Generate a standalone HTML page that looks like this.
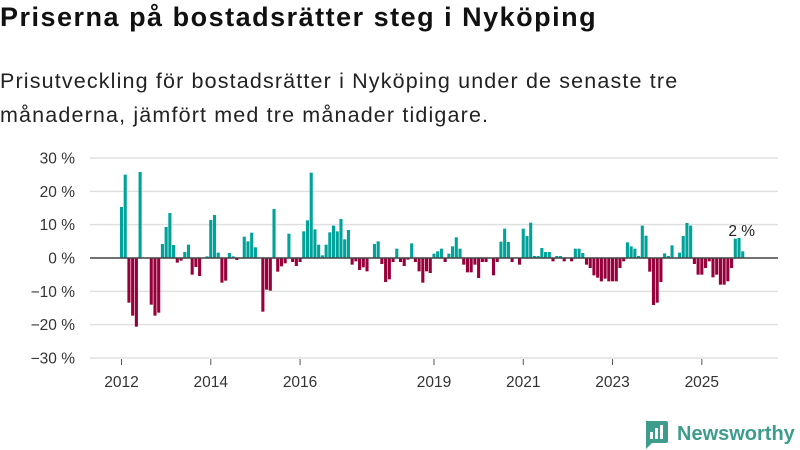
<!DOCTYPE html>
<html><head><meta charset="utf-8"><style>
body{margin:0;width:800px;height:450px;background:#fff;overflow:hidden;font-family:"Liberation Sans",sans-serif;color:#111}
#title{position:absolute;left:0;top:2px;font-size:27px;font-weight:bold;margin:0;white-space:nowrap;letter-spacing:1.5px}
#sub{position:absolute;left:0;top:64px;font-size:21.5px;line-height:34px;color:#222;white-space:nowrap;letter-spacing:1.15px}
svg{position:absolute;left:0;top:0}
</style></head><body>
<h1 id="title">Priserna på bostadsrätter steg i Nyköping</h1>
<div id="sub">Prisutveckling för bostadsrätter i Nyköping under de senaste tre<br>månaderna, jämfört med tre månader tidigare.</div>
<svg id="chart" width="800" height="450"></svg>
<script>
const startYear = 2012;
const values = [15.3,25,-13.4,-17.3,-20.6,25.8,0,0,-14,-17.3,-16.4,4.2,9.3,13.5,3.9,-1.4,-0.8,1.8,4,-5,-2.7,-5.4,0,0.5,11.4,12.9,1.6,-7.4,-6.8,1.5,0.5,-0.6,0,6.4,5,7.6,3.2,0,-16.1,-9.5,-9.8,14.7,-4.1,-2.5,-1.6,7.3,-1.2,-2.4,-1.2,8,11.3,25.6,8.6,4,0.8,4,7.7,9.7,8,11.7,5.6,8.4,-2,-1,-3.6,-2.8,-4,0,4.2,5,-1.8,-7.2,-6.4,-1.2,2.8,-1.2,-2.4,-0.5,4.4,-1.2,-4,-7.4,-4,-4.5,1.3,2,2.8,-1.2,1.3,3.5,6.2,2.8,-2,-4.3,-4.3,-2,-6,-1.2,-1.2,0,-5.2,-1.2,4.9,8.8,4.8,-1.2,0,-2,8.8,6.6,10.6,0.6,0.6,3,1.8,1.8,-1,0.6,0.6,-1,0,-1,2.8,2.8,1.5,-2,-3,-5.2,-5.9,-7,-6.2,-7,-7,-7,-3,-1,4.7,3.5,2.8,0.6,9.7,6.7,-4.1,-14.1,-13.4,-7.2,1.4,0.6,3.8,0,1.6,6.6,10.5,9.7,-1.8,-5,-5,-3,-1,-5.8,-5,-8,-8,-7,-3,5.8,6,2];
const yTicks = [30,20,10,0,-10,-20,-30];
const xTickYears = [2012,2014,2016,2019,2021,2023,2025];
const lastLabel = "2 %";

const svg = document.getElementById('chart');
const NS = 'http://www.w3.org/2000/svg';
const y0 = 258, pxPer = 100/30, x0 = 121.5, step = 3.72;
function yScale(v){return y0 - v*pxPer;}
function xScale(i){return x0 + i*step;}
function mk(t,a){const e=document.createElementNS(NS,t);for(const k in a)e.setAttribute(k,a[k]);svg.appendChild(e);return e;}
yTicks.forEach(t=>{
  if(t!==0){
    const g=mk('line',{x1:90,x2:778,y1:yScale(t),y2:yScale(t),stroke:'#e0e0e0','stroke-width':1.5});
    
    
  }
  const l=mk('text',{x:75,y:yScale(t)+5.5,'text-anchor':'end','font-size':15.5,fill:'#333'});
  l.textContent=(t<0?'\u2212'+Math.abs(t):t)+' %';
  
  
});
values.forEach((v,i)=>{
  if(v===0)return;
  const x=xScale(i);
  const r=mk('rect',{x:x-1.55,width:3.1,y:Math.min(yScale(v),y0),height:Math.abs(yScale(v)-y0),fill:v>0?'#00a39a':'#98003b'});
  
  
});
const z=mk('line',{x1:90,x2:778,y1:y0,y2:y0,stroke:'#444','stroke-width':1.5});


xTickYears.forEach(yr=>{
  const x=xScale((yr-startYear)*12);
  const tk=mk('line',{x1:x,x2:x,y1:359,y2:365,stroke:'#555','stroke-width':1});
  
  
  const t=mk('text',{x:x,y:387,'text-anchor':'middle','font-size':15.5,fill:'#333'});
  t.textContent=yr;
  
  
});
const li=values.length-1;
const lt=mk('text',{x:xScale(li)-1,y:236,'text-anchor':'middle','font-size':15.5,fill:'#222'});
lt.textContent=lastLabel;


</script>
<svg width="800" height="450" style="position:absolute;left:0;top:0">
  <path d="M646 421 h20 a2 2 0 0 1 2 2 v18 a2 2 0 0 1 -2 2 h-14 l-6 6 z" fill="#3d9c8c"/>
  <rect x="650" y="432" width="3" height="7" fill="#fff"/><rect x="655" y="428" width="3" height="11" fill="#fff"/><rect x="660" y="425" width="3" height="14" fill="#fff"/>
  <text x="677" y="440" font-size="20" font-weight="bold" fill="#3d9c8c" font-family="Liberation Sans, sans-serif">Newsworthy</text>
</svg>
</body></html>
